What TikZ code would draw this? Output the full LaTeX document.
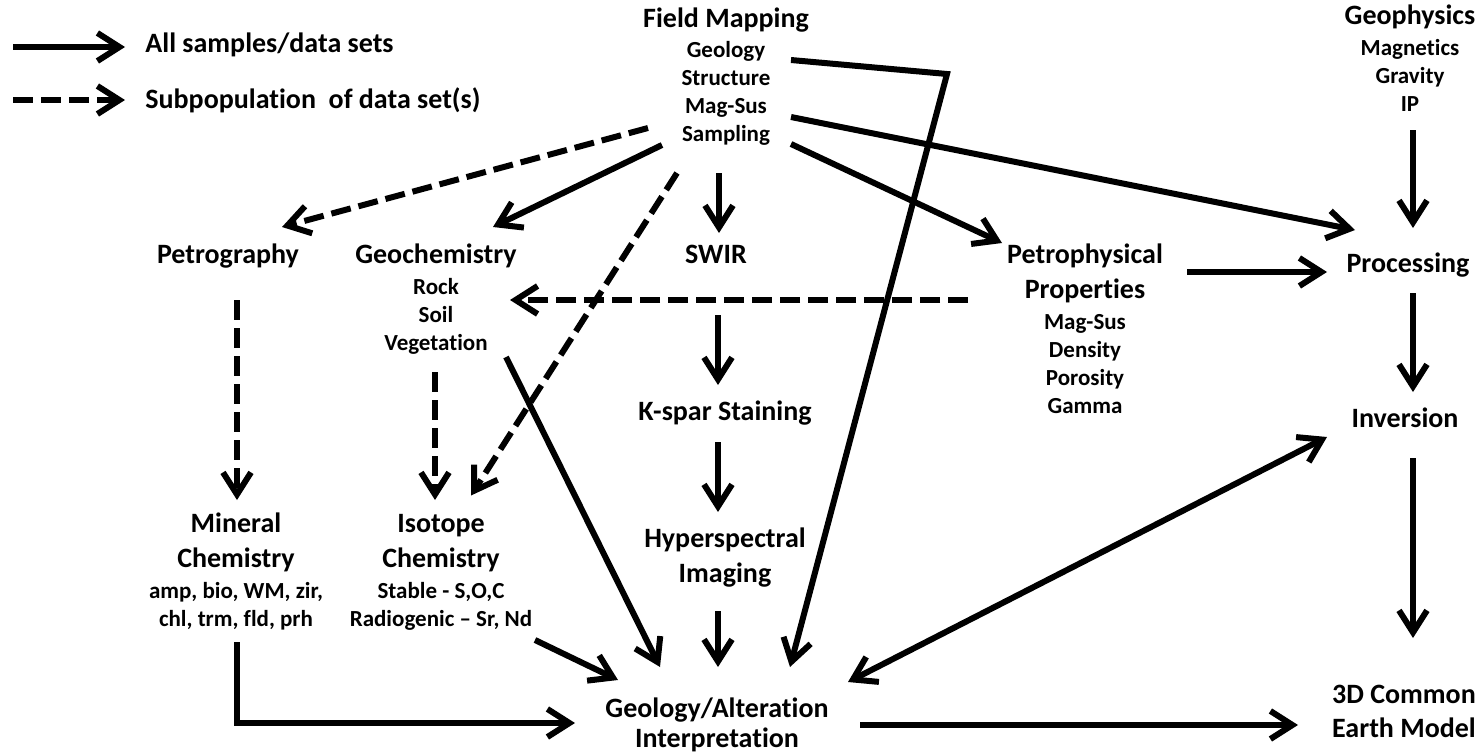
\documentclass[tikz,border=0pt]{standalone}
\usepackage{fontspec}
\setmainfont{Carlito}[Ligatures={TeX,NoCommon}]
\usetikzlibrary{arrows.meta}
\newcommand{\titlefont}{\fontsize{14}{17.5}\selectfont\bfseries}
\newcommand{\itemfont}{\fontsize{11.5}{14}\selectfont\bfseries}
\newcommand{\capline}{\rule{0pt}{12.25pt}}
\tikzset{
  label box/.style={anchor=north, align=center, inner sep=0pt, font=\itemfont},
  legend text/.style={anchor=base west, inner sep=0pt, font=\titlefont},
  arrow/.style={line width=3pt, ->},
  sub arrow/.style={arrow, dash pattern=on 10pt off 4pt},
}
\begin{document}
\begin{tikzpicture}[x=0.5pt, y=-0.5pt, >={Straight Barb[length=11pt, width=14pt]}]
  \useasboundingbox (0,0) rectangle (1479,755);

  % ---- Legend ----
  \node (legall) [legend text] at (145,53) {All samples/data sets};
  \node (legsub) [legend text] at (145,108) {Subpopulation\ \ of data set(s)};
  \coordinate (legalltail) at (13,47);
  \coordinate (legsubtail) at (13,100);
  \draw [arrow] (legalltail) -- ([shift={(-20,-6)}]legall.base west);
  \draw [sub arrow] (legsubtail) -- ([shift={(-20,-8)}]legsub.base west);

  % ---- Top row: sources ----
  \node (fm) [label box] at (726,2.5) {{\titlefont\capline Field Mapping}\\[1pt]Geology\\Structure\\Mag-Sus\\Sampling};
  \node (geoph) [label box] at (1410,-0.5) {{\titlefont\capline Geophysics}\\[1.5pt]Magnetics\\Gravity\\IP};

  % ---- Row 1 ----
  \node (petrog) [label box, font=\titlefont] at (228,238.5) {\capline Petrography};
  \node (geochem) [label box] at (436,238.5) {{\titlefont\capline Geochemistry}\\[1.5pt]Rock\\Soil\\Vegetation};
  \node (swir) [label box, font=\titlefont] at (716,238.5) {\capline SWIR};
  \node (petrop) [label box] at (1085,238.5) {{\titlefont\capline Petrophysical}\\[3.5pt]{\titlefont Properties}\\[1.5pt]Mag-Sus\\Density\\Porosity\\Gamma};
  \node (proc) [label box, font=\titlefont] at (1408,247.5) {\capline Processing};

  % ---- Row 2 ----
  \node (kspar) [label box, font=\titlefont] at (725,395.5) {\capline K-spar Staining};
  \node (inv) [label box, font=\titlefont] at (1405,402.5) {\capline Inversion};

  % ---- Row 3 ----
  \node (minchem) [label box] at (236,507.5) {{\titlefont\capline Mineral}\\[3.5pt]{\titlefont Chemistry}\\[1.5pt]amp, bio, WM, zir,\\chl, trm, fld, prh};
  \node (isochem) [label box] at (441,507.5) {{\titlefont\capline Isotope}\\[3.5pt]{\titlefont Chemistry}\\[1.5pt]Stable - S,O,C\\Radiogenic -- Sr, Nd};
  \node (hyper) [label box] at (725,522.5) {{\titlefont\capline Hyperspectral}\\[3.5pt]{\titlefont Imaging}};

  % ---- Row 4: results ----
  \node (geoalt) [label box] at (717,692.5) {{\titlefont\capline Geology/Alteration}\\[1pt]{\titlefont Interpretation}};
  \node (cem) [label box] at (1404,678.5) {{\titlefont\capline 3D Common}\\[3pt]{\titlefont Earth Model}};

  % ---- Arrows from field mapping ----
  \coordinate (fmbend) at (947,74);
  \draw [sub arrow] ([shift={(-78,125.5)}]fm.north) -- ([shift={(54,-11.5)}]petrog.north);
  \draw [arrow] ([shift={(-64,142.5)}]fm.north) -- ([shift={(57,-11.5)}]geochem.north);
  \draw [sub arrow] ([shift={(-49,170.5)}]fm.north) -- ([shift={(30,-12)}]isochem.north);
  \draw [arrow] ([shift={(-7,170.5)}]fm.north) -- ([shift={(3,-5.5)}]swir.north);
  \draw [arrow] ([shift={(65,141.5)}]fm.north) -- ([shift={(-83,4.5)}]petrop.north);
  \draw [arrow] ([shift={(65,114.5)}]fm.north) -- ([shift={(-53,-17.5)}]proc.north);
  \draw [arrow] ([shift={(65,57.5)}]fm.north) -- (fmbend) -- ([shift={(73,-25.5)}]geoalt.north);

  % ---- Geophysics branch ----
  \draw [arrow] ([shift={(3,130.5)}]geoph.north) -- ([shift={(5,-19.5)}]proc.north);
  \draw [arrow] ([shift={(102,33.5)}]petrop.north) -- ([shift={(-81,24.5)}]proc.north);
  \draw [sub arrow] ([shift={(-117,61.5)}]petrop.north) -- ([shift={(74,61.5)}]geochem.north);
  \draw [arrow] ([shift={(5,45.5)}]proc.north) -- ([shift={(8,-10.5)}]inv.north);
  \draw [arrow] ([shift={(8,55.5)}]inv.north) -- ([shift={(9,-40.5)}]cem.north);
  \draw [arrow, <->] ([shift={(-78,34.5)}]inv.north) -- ([shift={(131,-10.5)}]geoalt.north);

  % ---- Middle column ----
  \draw [arrow] ([shift={(2,76.5)}]swir.north) -- ([shift={(-7,-10.5)}]kspar.north);
  \draw [arrow] ([shift={(-7,46.5)}]kspar.north) -- ([shift={(-7,-10.5)}]hyper.north);
  \draw [arrow] ([shift={(-7,88.5)}]hyper.north) -- ([shift={(1,-25.5)}]geoalt.north);

  % ---- Left columns ----
  \draw [sub arrow] ([shift={(9,61.5)}]petrog.north) -- ([shift={(1,-7.5)}]minchem.north);
  \draw [sub arrow] ([shift={(-1,133.5)}]geochem.north) -- ([shift={(-6,-7.5)}]isochem.north);
  \draw [arrow] ([shift={(70,118.5)}]geochem.north) -- ([shift={(-57,-25.5)}]geoalt.north);
  \draw [arrow] ([shift={(94,132.5)}]isochem.north) -- ([shift={(-99,-12.5)}]geoalt.north);
  \draw [arrow] ([shift={(1,134.5)}]minchem.north) |- ([shift={(-142,30.5)}]geoalt.north);
  \draw [arrow] ([shift={(143,32.5)}]geoalt.north) -- ([shift={(-106,46.5)}]cem.north);

\end{tikzpicture}
\end{document}
